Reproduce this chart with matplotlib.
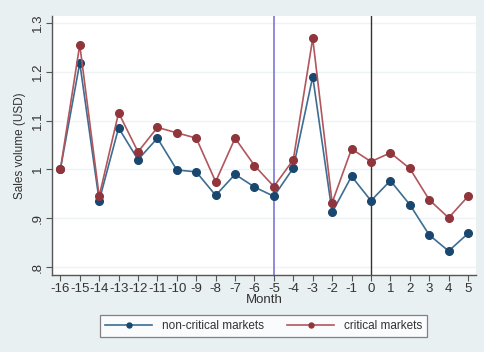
import matplotlib
matplotlib.use("Agg")
import matplotlib.pyplot as plt

months = list(range(-16, 6))
non_critical = [1.0, 1.218, 0.936, 1.085, 1.020, 1.064, 0.999, 0.995, 0.947, 0.990,
                0.964, 0.945, 1.003, 1.190, 0.912, 0.986, 0.936, 0.977, 0.928, 0.866,
                0.833, 0.869]
critical = [1.0, 1.255, 0.945, 1.116, 1.036, 1.086, 1.075, 1.064, 0.975, 1.064,
            1.008, 0.965, 1.020, 1.268, 0.932, 1.042, 1.016, 1.034, 1.002, 0.938,
            0.901, 0.945]
yticks = [0.8, 0.9, 1.0, 1.1, 1.2, 1.3]
yticklabels = [".8", ".9", "1", "1.1", "1.2", "1.3"]

plt.rcParams['font.family'] = ['Liberation Sans', 'DejaVu Sans']

bg = "#e9f0f2"
fig = plt.figure(figsize=(4.84, 3.52), dpi=100, facecolor=bg)
ax = fig.add_axes([52/484, 1-275/352, (476-52)/484, (275-16)/352])
ax.set_facecolor("white")

ax.set_xlim(-16.43, 5.41)
ax.set_ylim(0.784, 1.314)

for y in yticks:
    ax.axhline(y, color="#eef3f5", lw=1.0, zorder=0)

ax.axvline(-5, color="#7b78d8", lw=1.2, zorder=1)
ax.axvline(0, color="#333333", lw=1.0, zorder=1)

ax.plot(months, non_critical, color="#3d6d92", lw=1.2, marker="o", ms=5.5,
        mfc="#1a476f", mec="#1a476f", label="non-critical markets", zorder=3)
ax.plot(months, critical, color="#b0565c", lw=1.2, marker="o", ms=5.5,
        mfc="#90353b", mec="#90353b", label="critical markets", zorder=3)

ax.set_xticks(months)
ax.set_xticklabels([str(m) for m in months], fontsize=9.5)
ax.set_yticks(yticks)
ax.set_yticklabels(yticklabels, fontsize=9.5, rotation=90, va="center")

for s in ["top", "right"]:
    ax.spines[s].set_visible(False)
for s in ["left", "bottom"]:
    ax.spines[s].set_color("#555555")
    ax.spines[s].set_linewidth(1.0)
ax.tick_params(axis="both", direction="out", length=4, color="#555555",
               labelcolor="#333333", pad=2)

ax.set_xlabel("Month", fontsize=9.5, labelpad=-1, color="#333333")
ax.set_ylabel("Sales volume (USD)", fontsize=8.5, labelpad=4, color="#333333")

leg = fig.legend(loc="center", bbox_to_anchor=(263.5/484, 1-326/352), ncol=2,
                 fontsize=8.5, frameon=True, fancybox=False, edgecolor="#666666",
                 handlelength=4.0, columnspacing=2.0, borderpad=0.45,
                 handletextpad=0.8, markerscale=0.65, labelcolor="#333333")
leg.get_frame().set_linewidth(0.9)

fig.savefig("out.png", dpi=100, facecolor=bg)
